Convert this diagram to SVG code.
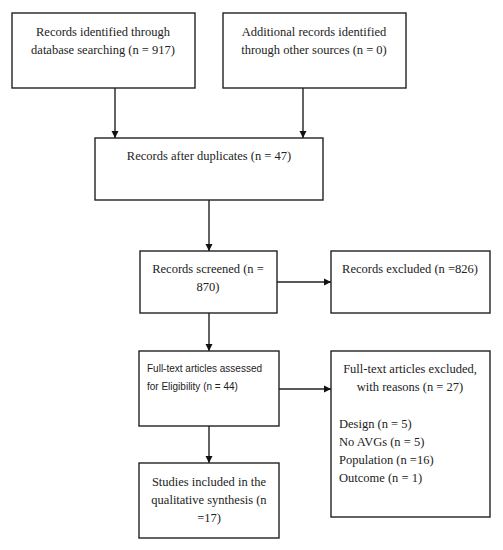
<svg xmlns="http://www.w3.org/2000/svg" width="503" height="550" viewBox="0 0 503 550">
<defs>
<marker id="ah" markerWidth="8" markerHeight="8" refX="7" refY="4" orient="auto" markerUnits="userSpaceOnUse">
<path d="M0,0.5 L7,4 L0,7.5 Z" fill="#111"/>
</marker>
<style>
.box{fill:#fff;stroke:#222;stroke-width:1.4}
.t{font-family:"Liberation Serif","Times New Roman",serif;font-size:12.5px;fill:#222}
.c{text-anchor:middle}
.s{font-family:"Liberation Sans",Arial,sans-serif;font-size:10px;fill:#222}
.ln{stroke:#222;stroke-width:1.4;fill:none}
</style>
</defs>
<rect width="503" height="550" fill="#fff"/>
<g id="n1"><rect class="box" x="12" y="13" width="183" height="75"/>
<text class="t c" x="103" y="36">Records identified through</text>
<text class="t c" x="103" y="54">database searching (n = 917)</text></g>
<g id="n2"><rect class="box" x="223" y="13" width="183" height="75"/>
<text class="t c" x="314" y="36">Additional records identified</text>
<text class="t c" x="314" y="54">through other sources (n = 0)</text></g>
<g id="n3"><rect class="box" x="95" y="138" width="228" height="62"/>
<text class="t c" x="209" y="160">Records after duplicates (n = 47)</text></g>
<g id="n4"><rect class="box" x="140" y="251" width="137" height="62"/>
<text class="t c" x="208" y="273">Records screened (n =</text>
<text class="t c" x="208" y="291">870)</text></g>
<g id="n5"><rect class="box" x="331" y="251" width="159" height="62"/>
<text class="t c" x="410" y="273">Records excluded (n =826)</text></g>
<g id="n6"><rect class="box" x="139" y="351" width="140" height="75"/>
<text class="s" x="147" y="372">Full-text articles assessed</text>
<text class="s" x="147" y="390">for Eligibility (n = 44)</text></g>
<g id="n7"><rect class="box" x="331" y="351" width="159" height="166"/>
<text class="t c" x="410" y="373">Full-text articles excluded,</text>
<text class="t c" x="410" y="391">with reasons (n = 27)</text>
<text class="t" x="339" y="428">Design (n = 5)</text>
<text class="t" x="339" y="446">No AVGs (n = 5)</text>
<text class="t" x="339" y="464">Population (n =16)</text>
<text class="t" x="339" y="482">Outcome (n = 1)</text></g>
<g id="n8"><rect class="box" x="139" y="463" width="140" height="75"/>
<text class="t c" x="209" y="486">Studies included in the</text>
<text class="t c" x="209" y="504">qualitative synthesis (n</text>
<text class="t c" x="209" y="522">=17)</text></g>
<g id="connectors">
<line class="ln" x1="115" y1="88" x2="115" y2="138" marker-end="url(#ah)"/>
<line class="ln" x1="303" y1="88" x2="303" y2="138" marker-end="url(#ah)"/>
<line class="ln" x1="209" y1="200" x2="209" y2="251" marker-end="url(#ah)"/>
<line class="ln" x1="277" y1="282" x2="331" y2="282" marker-end="url(#ah)"/>
<line class="ln" x1="209" y1="313" x2="209" y2="351" marker-end="url(#ah)"/>
<line class="ln" x1="279" y1="389" x2="331" y2="389" marker-end="url(#ah)"/>
<line class="ln" x1="209" y1="426" x2="209" y2="463" marker-end="url(#ah)"/>
</g>
</svg>
